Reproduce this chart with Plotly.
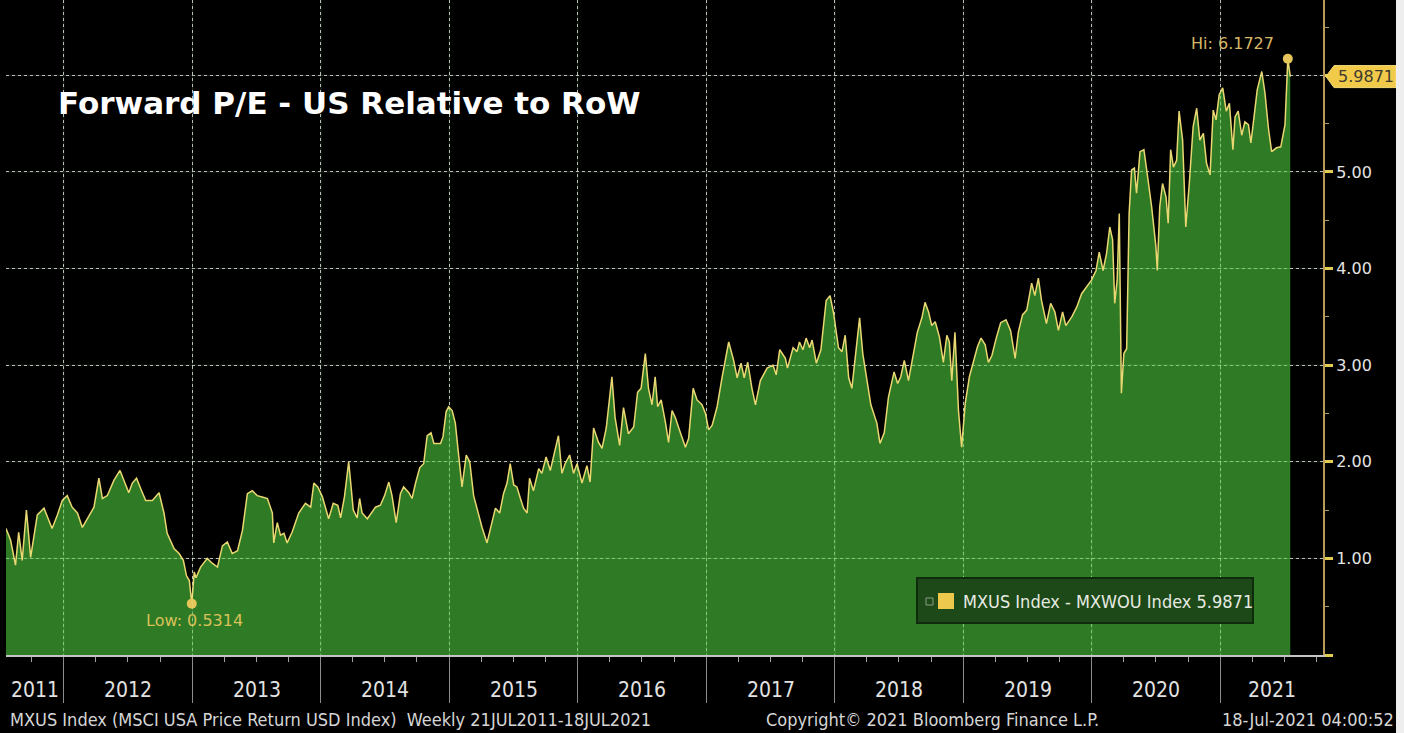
import pandas as pd
import plotly.graph_objects as go

# Weekly MXUS / MXWOU forward P/E ratio, sampled at the turning points (decimal years)
t_dec = [
    2011.553, 2011.588, 2011.627, 2011.652, 2011.679, 2011.712, 2011.743, 2011.795, 2011.847, 2011.912,
    2011.951, 2011.990, 2012.029, 2012.068, 2012.107, 2012.145, 2012.184, 2012.236, 2012.275, 2012.301,
    2012.340, 2012.391, 2012.438, 2012.474, 2012.508, 2012.534, 2012.568, 2012.599, 2012.638, 2012.690,
    2012.741, 2012.780, 2012.806, 2012.858, 2012.897, 2012.931, 2012.956, 2012.976, 2012.995, 2013.014,
    2013.030, 2013.065, 2013.117, 2013.156, 2013.195, 2013.234, 2013.273, 2013.312, 2013.351, 2013.390,
    2013.428, 2013.467, 2013.506, 2013.558, 2013.585, 2013.623, 2013.635, 2013.662, 2013.687, 2013.713,
    2013.739, 2013.778, 2013.830, 2013.882, 2013.921, 2013.946, 2013.977, 2014.012, 2014.063, 2014.097,
    2014.133, 2014.154, 2014.185, 2014.218, 2014.253, 2014.284, 2014.304, 2014.323, 2014.362, 2014.426,
    2014.465, 2014.496, 2014.530, 2014.556, 2014.589, 2014.621, 2014.646, 2014.685, 2014.712, 2014.737,
    2014.771, 2014.802, 2014.828, 2014.859, 2014.880, 2014.932, 2014.953, 2014.978, 2014.996, 2015.023,
    2015.048, 2015.074, 2015.100, 2015.134, 2015.159, 2015.190, 2015.229, 2015.256, 2015.295, 2015.334,
    2015.359, 2015.393, 2015.424, 2015.450, 2015.476, 2015.502, 2015.528, 2015.554, 2015.580, 2015.606,
    2015.626, 2015.657, 2015.696, 2015.722, 2015.756, 2015.787, 2015.818, 2015.851, 2015.878, 2015.904,
    2015.937, 2015.968, 2015.995, 2016.033, 2016.072, 2016.098, 2016.124, 2016.163, 2016.189, 2016.222,
    2016.267, 2016.292, 2016.326, 2016.357, 2016.396, 2016.435, 2016.466, 2016.492, 2016.526, 2016.551,
    2016.578, 2016.603, 2016.621, 2016.648, 2016.681, 2016.707, 2016.733, 2016.759, 2016.792, 2016.837,
    2016.862, 2016.897, 2016.928, 2016.967, 2016.992, 2017.018, 2017.044, 2017.083, 2017.122, 2017.173,
    2017.212, 2017.239, 2017.270, 2017.295, 2017.321, 2017.355, 2017.381, 2017.420, 2017.472, 2017.519,
    2017.544, 2017.570, 2017.614, 2017.632, 2017.674, 2017.705, 2017.726, 2017.752, 2017.778, 2017.803,
    2017.822, 2017.855, 2017.892, 2017.933, 2017.964, 2017.990, 2018.029, 2018.055, 2018.081, 2018.107,
    2018.133, 2018.159, 2018.192, 2018.218, 2018.254, 2018.281, 2018.327, 2018.353, 2018.384, 2018.418,
    2018.462, 2018.488, 2018.514, 2018.540, 2018.573, 2018.612, 2018.643, 2018.677, 2018.703, 2018.729,
    2018.755, 2018.781, 2018.814, 2018.845, 2018.872, 2018.892, 2018.911, 2018.936, 2018.962, 2018.989,
    2019.014, 2019.048, 2019.079, 2019.110, 2019.138, 2019.170, 2019.195, 2019.222, 2019.260, 2019.291,
    2019.333, 2019.369, 2019.403, 2019.428, 2019.463, 2019.494, 2019.533, 2019.558, 2019.584, 2019.610,
    2019.649, 2019.680, 2019.714, 2019.740, 2019.774, 2019.799, 2019.844, 2019.883, 2019.921, 2019.960,
    2019.999, 2020.033, 2020.058, 2020.089, 2020.116, 2020.141, 2020.162, 2020.180, 2020.198, 2020.214,
    2020.232, 2020.250, 2020.271, 2020.292, 2020.310, 2020.331, 2020.349, 2020.375, 2020.406, 2020.427,
    2020.466, 2020.499, 2020.509, 2020.530, 2020.551, 2020.577, 2020.595, 2020.613, 2020.634, 2020.660,
    2020.680, 2020.707, 2020.730, 2020.758, 2020.789, 2020.816, 2020.841, 2020.867, 2020.893, 2020.919,
    2020.945, 2020.966, 2020.991, 2021.018, 2021.044, 2021.069, 2021.096, 2021.114, 2021.139, 2021.166,
    2021.191, 2021.217, 2021.236, 2021.261, 2021.287, 2021.321, 2021.347, 2021.373, 2021.399, 2021.438,
    2021.470, 2021.503, 2021.524, 2021.543,
]
pe_rel = [
    1.31, 1.19, 0.93, 1.27, 0.98, 1.50, 1.01, 1.45, 1.52, 1.31,
    1.45, 1.60, 1.65, 1.53, 1.47, 1.32, 1.41, 1.53, 1.83, 1.62,
    1.65, 1.81, 1.91, 1.79, 1.68, 1.78, 1.83, 1.72, 1.60, 1.60,
    1.68, 1.47, 1.26, 1.10, 1.05, 0.98, 0.82, 0.77, 0.5314, 0.86,
    0.80, 0.91, 1.00, 0.95, 0.91, 1.13, 1.17, 1.05, 1.08, 1.29,
    1.67, 1.70, 1.65, 1.63, 1.62, 1.47, 1.16, 1.37, 1.24, 1.26,
    1.16, 1.27, 1.47, 1.57, 1.53, 1.78, 1.74, 1.64, 1.41, 1.57,
    1.55, 1.42, 1.64, 2.00, 1.50, 1.42, 1.62, 1.47, 1.41, 1.53,
    1.55, 1.65, 1.79, 1.65, 1.37, 1.67, 1.74, 1.68, 1.62, 1.78,
    1.94, 1.98, 2.27, 2.30, 2.19, 2.19, 2.26, 2.52, 2.57, 2.53,
    2.40, 2.05, 1.74, 2.07, 2.00, 1.65, 1.45, 1.32, 1.16, 1.39,
    1.52, 1.47, 1.67, 1.78, 1.98, 1.76, 1.74, 1.62, 1.52, 1.47,
    1.83, 1.70, 1.93, 1.88, 2.05, 1.91, 2.09, 2.27, 1.88, 1.98,
    2.07, 1.88, 1.98, 1.78, 1.96, 1.79, 2.35, 2.20, 2.14, 2.35,
    2.88, 2.46, 2.17, 2.56, 2.29, 2.36, 2.72, 2.76, 3.12, 2.76,
    2.59, 2.88, 2.57, 2.64, 2.41, 2.20, 2.53, 2.46, 2.33, 2.15,
    2.24, 2.76, 2.64, 2.59, 2.50, 2.33, 2.38, 2.57, 2.87, 3.24,
    3.05, 2.87, 3.02, 2.87, 3.03, 2.76, 2.59, 2.84, 2.97, 3.00,
    2.90, 3.16, 3.07, 2.97, 3.18, 3.14, 3.24, 3.16, 3.28, 3.18,
    3.26, 3.02, 3.16, 3.67, 3.72, 3.54, 3.18, 3.14, 3.31, 2.87,
    2.76, 3.07, 3.49, 3.12, 2.79, 2.59, 2.40, 2.19, 2.30, 2.67,
    2.93, 2.81, 2.88, 3.05, 2.84, 3.10, 3.34, 3.49, 3.65, 3.55,
    3.41, 3.45, 3.29, 3.03, 3.31, 3.24, 2.84, 3.34, 2.53, 2.15,
    2.60, 2.88, 3.03, 3.19, 3.28, 3.21, 3.03, 3.10, 3.29, 3.44,
    3.47, 3.36, 3.07, 3.34, 3.52, 3.57, 3.85, 3.72, 3.90, 3.67,
    3.43, 3.64, 3.55, 3.36, 3.55, 3.41, 3.50, 3.60, 3.74, 3.81,
    3.88, 3.98, 4.17, 3.98, 4.16, 4.43, 4.30, 3.64, 3.88, 4.57,
    2.71, 3.12, 3.17, 4.57, 5.02, 5.04, 4.78, 5.21, 5.23, 5.02,
    4.64, 4.23, 3.98, 4.64, 4.88, 4.74, 4.47, 5.23, 5.05, 5.12,
    5.63, 5.33, 4.43, 4.88, 5.47, 5.66, 5.33, 5.40, 5.09, 4.97,
    5.64, 5.54, 5.80, 5.87, 5.63, 5.71, 5.23, 5.57, 5.63, 5.38,
    5.52, 5.49, 5.30, 5.57, 5.85, 6.04, 5.82, 5.45, 5.21, 5.25,
    5.26, 5.49, 6.1727, 5.9871,
]

y_tick_vals = [0, 1, 2, 3, 4, 5, 6]
y_tick_text = ["", "1.00", "2.00", "3.00", "4.00", "5.00", ""]
y_minor_vals = [0.5, 1.5, 2.5, 3.5, 4.5, 5.5, 6.5]
years = list(range(2011, 2022))

x_start, x_end = "2011-07-21", "2021-10-19"
series_name = "MXUS Index - MXWOU Index"
title_text = "Forward P/E - US Relative to RoW"
footer_left = "MXUS Index (MSCI USA Price Return USD Index)  Weekly 21JUL2011-18JUL2021"
footer_mid = "Copyright\u00a9 2021 Bloomberg Finance L.P."
footer_right = "18-Jul-2021 04:00:52"


def dec_to_date(d):
    y = int(d)
    start = pd.Timestamp(y, 1, 1)
    span = (pd.Timestamp(y + 1, 1, 1) - start).days
    return (start + pd.Timedelta(days=(d - y) * span)).normalize()


dates = [dec_to_date(d) for d in t_dec]
lo_i = min(range(len(pe_rel)), key=lambda i: pe_rel[i])
hi_i = max(range(len(pe_rel)), key=lambda i: pe_rel[i])
last = pe_rel[-1]

W, H = 1404, 733
ML, MR, MT, MB = 6, 81, 0, 78
PW, PH = W - ML - MR, H - MT - MB
Y_MAX = 6.78


def px(x):
    return (x - ML) / PW


def py(y):
    return (H - MB - y) / PH


GOLD = "#e6c65a"
NARROW = "Liberation Sans Narrow, Arial Narrow, DejaVu Sans Condensed, sans-serif"

fig = go.Figure()
fig.add_trace(go.Scatter(
    x=dates, y=pe_rel, mode="lines", name=series_name,
    line=dict(color="#e9d772", width=1.5),
    fill="tozeroy", fillcolor="rgba(78,204,60,0.6)",
    showlegend=False, hoverinfo="x+y",
))
fig.add_trace(go.Scatter(
    x=[dates[lo_i], dates[hi_i]], y=[pe_rel[lo_i], pe_rel[hi_i]], mode="markers",
    marker=dict(color=GOLD, size=10), showlegend=False, hoverinfo="skip",
))

grid_style = dict(showgrid=True, gridcolor="rgba(228,228,228,0.8)", gridwidth=1, griddash="dot")

fig.update_xaxes(
    type="date", range=[x_start, x_end], **grid_style,
    tick0="2012-01-01", dtick="M12", ticks="outside", ticklen=46, tickwidth=1,
    tickcolor="#8c8c8c", showticklabels=False,
    minor=dict(dtick="M3", ticks="outside", ticklen=5, tickcolor="#a0a0a0", showgrid=False),
    showline=True, linecolor="#c4c4c4", linewidth=2, zeroline=False,
)
fig.update_yaxes(
    side="right", range=[0, Y_MAX], **grid_style,
    tickmode="array", tickvals=y_tick_vals, ticktext=y_tick_text,
    ticks="outside", ticklen=8, tickwidth=3, tickcolor="#e2cc55",
    minor=dict(tickvals=y_minor_vals, ticks="outside", ticklen=4, tickwidth=1,
               tickcolor="#b89a5a", showgrid=False),
    tickfont=dict(family="DejaVu Sans", size=16, color="#e4e4e4"),
    showline=True, linecolor="#b89a5a", linewidth=2, zeroline=False,
)

annotations = []
shapes = []

# faint grid glow drawn over the filled area
for yr in years[1:]:
    shapes.append(dict(
        type="line", xref="x", yref="y", layer="above",
        x0=pd.Timestamp(yr, 1, 1), x1=pd.Timestamp(yr, 1, 1), y0=0, y1=Y_MAX,
        line=dict(color="rgba(200,255,190,0.17)", width=1),
    ))
for yv in y_tick_vals[1:]:
    shapes.append(dict(
        type="line", xref="paper", yref="y", layer="above",
        x0=0, x1=1, y0=yv, y1=yv,
        line=dict(color="rgba(200,255,190,0.17)", width=1),
    ))

# title
annotations.append(dict(
    text=title_text, xref="paper", yref="paper", x=px(56), y=py(103),
    xanchor="left", yanchor="middle", showarrow=False,
    font=dict(family="DejaVu Sans", size=31, color="#ffffff", weight="bold"),
))

# year labels, centred in the visible part of each year
rng0, rng1 = pd.Timestamp(x_start), pd.Timestamp(x_end)
for yr in years:
    a = max(rng0, pd.Timestamp(yr, 1, 1))
    b = min(rng1, pd.Timestamp(yr + 1, 1, 1))
    annotations.append(dict(
        text=str(yr), xref="x", yref="paper", x=a + (b - a) / 2, y=py(690),
        xanchor="center", yanchor="middle", showarrow=False,
        font=dict(family=NARROW, size=21, color="#e2e2e2"),
    ))

# footer
for txt, xx, anc in [(footer_left, px(8), "left"), (footer_mid, px(932), "center"),
                     (footer_right, px(1396), "right")]:
    annotations.append(dict(
        text=txt, xref="paper", yref="paper", x=xx, y=py(719),
        xanchor=anc, yanchor="middle", showarrow=False,
        font=dict(family=NARROW, size=18, color="#d6d6d6"),
    ))

# low / high labels
annotations.append(dict(
    text=f"Low: {pe_rel[lo_i]:.4f}", x=dates[lo_i], y=pe_rel[lo_i], xref="x", yref="y",
    showarrow=False, xanchor="center", yanchor="middle", yshift=-17, xshift=3,
    font=dict(family="DejaVu Sans", size=16, color="#d9c15a"),
))
annotations.append(dict(
    text=f"Hi: {pe_rel[hi_i]:.4f}", x=dates[hi_i], y=pe_rel[hi_i], xref="x", yref="y",
    showarrow=False, xanchor="right", yanchor="middle", yshift=15, xshift=-12,
    font=dict(family="DejaVu Sans", size=16, color="#d8b866"),
))

# last-value tag on the axis
h = 11 / PH * Y_MAX
x0, x1, x2 = px(1326), px(1334), px(1396)
shapes.append(dict(
    type="path", xref="paper", yref="y", layer="above",
    path=f"M {x0},{last} L {x1},{last + h} L {x2},{last + h} L {x2},{last - h} L {x1},{last - h} Z",
    fillcolor="#f2ca4a", line=dict(color="#f6dc7a", width=1),
))
annotations.append(dict(
    text=f"{last:.4f}", xref="paper", yref="y", x=px(1366), y=last,
    xanchor="center", yanchor="middle", showarrow=False,
    font=dict(family="DejaVu Sans", size=16, color="#3c3a30"),
))

# series key box
shapes.append(dict(
    type="rect", xref="paper", yref="paper", layer="above",
    x0=px(917), x1=px(1253), y0=py(623), y1=py(578),
    fillcolor="#1d4818", line=dict(color="#0f2a0c", width=2),
))
shapes.append(dict(
    type="rect", xref="paper", yref="paper", layer="above",
    x0=px(926), x1=px(933), y0=py(605), y1=py(598),
    fillcolor="rgba(0,0,0,0)", line=dict(color="#8c9c86", width=1),
))
shapes.append(dict(
    type="rect", xref="paper", yref="paper", layer="above",
    x0=px(938), x1=px(954), y0=py(609), y1=py(593),
    fillcolor="#ecc94c", line=dict(width=0),
))
annotations.append(dict(
    text=f"{series_name} {last:.4f}", xref="paper", yref="paper", x=px(961), y=py(601),
    xanchor="left", yanchor="middle", showarrow=False,
    font=dict(family=NARROW, size=18, color="#e6ebe2"),
))

# light frame strip on the right edge
shapes.append(dict(
    type="rect", xref="paper", yref="paper", layer="above",
    x0=px(1396), x1=px(1410), y0=py(740), y1=py(-5),
    fillcolor="#eeeeee", line=dict(width=0),
))

fig.update_layout(
    width=W, height=H,
    margin=dict(l=ML, r=MR, t=MT, b=MB),
    paper_bgcolor="#000000", plot_bgcolor="#000000",
    annotations=annotations, shapes=shapes,
    showlegend=False,
)

fig.write_html("out.html")
